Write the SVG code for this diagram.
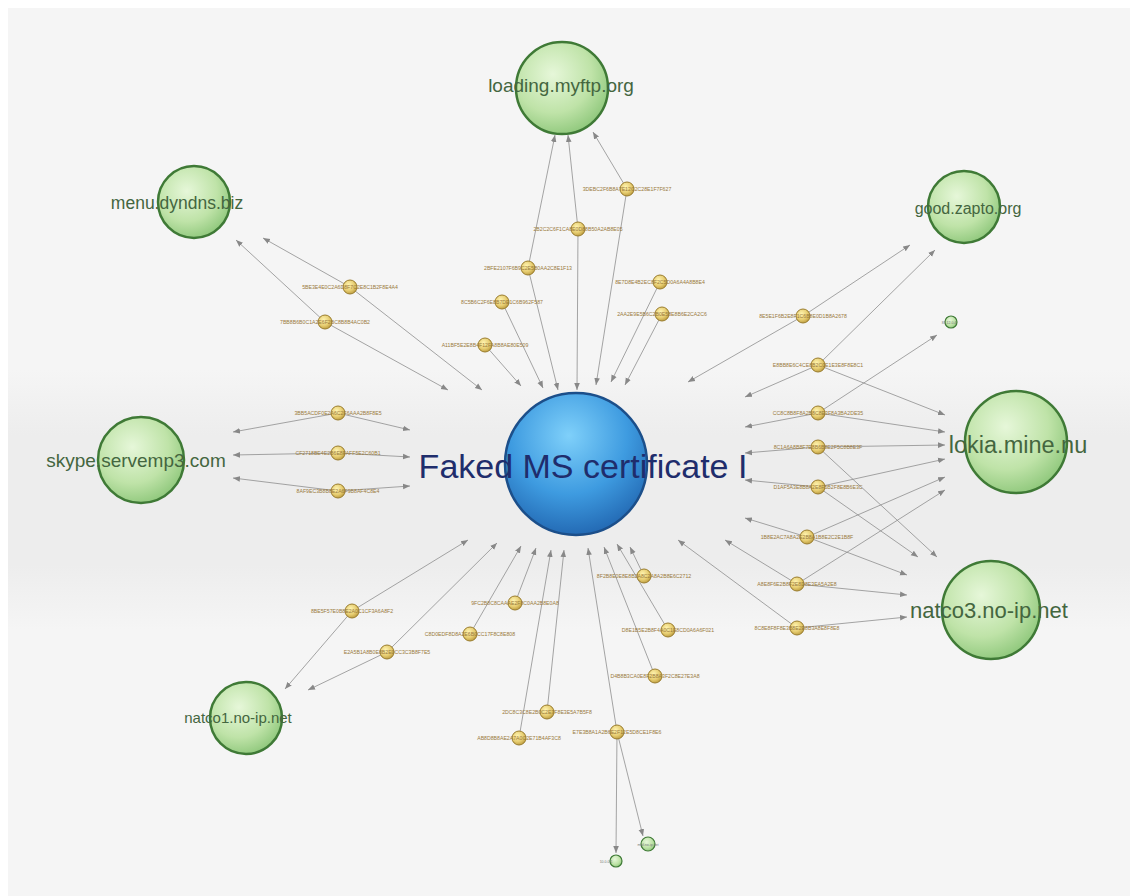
<svg xmlns="http://www.w3.org/2000/svg" width="1130" height="896" viewBox="0 0 1130 896">
<defs>
<radialGradient id="gG" cx="0.4" cy="0.35" r="0.7">
<stop offset="0" stop-color="#e6f7d9"/><stop offset="0.6" stop-color="#bfe3a8"/><stop offset="1" stop-color="#8cc679"/>
</radialGradient>
<radialGradient id="gB" cx="0.45" cy="0.3" r="0.75">
<stop offset="0" stop-color="#7fd0fa"/><stop offset="0.55" stop-color="#3e9be0"/><stop offset="1" stop-color="#1f62ad"/>
</radialGradient>
<radialGradient id="gY" cx="0.4" cy="0.35" r="0.7">
<stop offset="0" stop-color="#fff4b0"/><stop offset="0.6" stop-color="#e6cc70"/><stop offset="1" stop-color="#b8973a"/>
</radialGradient>
<linearGradient id="band" x1="0" y1="0" x2="0" y2="1">
<stop offset="0" stop-color="#ebebeb" stop-opacity="0"/><stop offset="0.25" stop-color="#ebebeb" stop-opacity="0.8"/><stop offset="0.75" stop-color="#ebebeb" stop-opacity="0.8"/><stop offset="1" stop-color="#ebebeb" stop-opacity="0"/>
</linearGradient>
<marker id="arr" viewBox="0 0 10 10" refX="10" refY="5" markerWidth="7" markerHeight="7" orient="auto" markerUnits="userSpaceOnUse">
<path d="M0,1 L10,5 L0,9 z" fill="#888"/>
</marker>
</defs>
<style>
.e{stroke:#8e8e8e;stroke-width:0.8;fill:none;marker-end:url(#arr)}
.dn{fill:url(#gG);stroke:#3f7a36;stroke-width:2.5}
.sn{fill:url(#gG);stroke:#3f7a36;stroke-width:1.2}
.hn{fill:url(#gY);stroke:#9a7d2e;stroke-width:1}
.hl{font-family:"Liberation Sans",Arial,sans-serif;font-size:5.2px;fill:#9a7a3c;text-anchor:middle}
.dl{font-family:"Liberation Sans",Arial,sans-serif;fill:#44663f;text-anchor:middle}
.sl{font-family:"Liberation Sans",Arial,sans-serif;font-size:3.5px;fill:#777;text-anchor:middle}
</style>
<rect x="0" y="0" width="1130" height="896" fill="#ffffff"/>
<rect x="8" y="8" width="1122" height="888" fill="#f5f5f5"/>
<rect x="8" y="370" width="1122" height="260" fill="url(#band)"/>

<g id="connectors">
<line class="e" x1="627" y1="189" x2="593" y2="132"/>
<line class="e" x1="627" y1="189" x2="596" y2="385"/>
<line class="e" x1="578" y1="229" x2="568" y2="135"/>
<line class="e" x1="578" y1="229" x2="577" y2="390"/>
<line class="e" x1="528" y1="268" x2="555" y2="135"/>
<line class="e" x1="528" y1="268" x2="558" y2="390"/>
<line class="e" x1="502" y1="302" x2="543" y2="388"/>
<line class="e" x1="485" y1="345" x2="521" y2="386"/>
<line class="e" x1="660" y1="282" x2="611" y2="382"/>
<line class="e" x1="662" y1="314" x2="625" y2="385"/>
<line class="e" x1="350" y1="287" x2="263" y2="238"/>
<line class="e" x1="350" y1="287" x2="482" y2="390"/>
<line class="e" x1="325" y1="322" x2="236" y2="240"/>
<line class="e" x1="325" y1="322" x2="448" y2="390"/>
<line class="e" x1="338" y1="413" x2="233" y2="432"/>
<line class="e" x1="338" y1="413" x2="410" y2="430"/>
<line class="e" x1="338" y1="453" x2="233" y2="455"/>
<line class="e" x1="338" y1="453" x2="410" y2="457"/>
<line class="e" x1="338" y1="491" x2="233" y2="478"/>
<line class="e" x1="338" y1="491" x2="410" y2="486"/>
<line class="e" x1="352" y1="611" x2="285" y2="689"/>
<line class="e" x1="352" y1="611" x2="468" y2="540"/>
<line class="e" x1="387" y1="652" x2="308" y2="690"/>
<line class="e" x1="387" y1="652" x2="497" y2="543"/>
<line class="e" x1="470" y1="634" x2="521" y2="546"/>
<line class="e" x1="515" y1="603" x2="536" y2="548"/>
<line class="e" x1="519" y1="738" x2="551" y2="550"/>
<line class="e" x1="547" y1="712" x2="564" y2="550"/>
<line class="e" x1="617" y1="732" x2="588" y2="548"/>
<line class="e" x1="617" y1="732" x2="616" y2="853"/>
<line class="e" x1="617" y1="732" x2="643" y2="836"/>
<line class="e" x1="655" y1="676" x2="604" y2="547"/>
<line class="e" x1="668" y1="630" x2="617" y2="544"/>
<line class="e" x1="644" y1="576" x2="630" y2="547"/>
<line class="e" x1="803" y1="316" x2="910" y2="245"/>
<line class="e" x1="803" y1="316" x2="688" y2="382"/>
<line class="e" x1="818" y1="365" x2="935" y2="250"/>
<line class="e" x1="818" y1="365" x2="745" y2="397"/>
<line class="e" x1="818" y1="365" x2="945" y2="415"/>
<line class="e" x1="818" y1="413" x2="937" y2="335"/>
<line class="e" x1="818" y1="413" x2="745" y2="427"/>
<line class="e" x1="818" y1="413" x2="945" y2="432"/>
<line class="e" x1="818" y1="447" x2="945" y2="445"/>
<line class="e" x1="818" y1="447" x2="745" y2="453"/>
<line class="e" x1="818" y1="447" x2="937" y2="557"/>
<line class="e" x1="818" y1="487" x2="745" y2="480"/>
<line class="e" x1="818" y1="487" x2="945" y2="459"/>
<line class="e" x1="818" y1="487" x2="918" y2="557"/>
<line class="e" x1="807" y1="537" x2="745" y2="518"/>
<line class="e" x1="807" y1="537" x2="945" y2="477"/>
<line class="e" x1="807" y1="537" x2="907" y2="575"/>
<line class="e" x1="797" y1="584" x2="945" y2="490"/>
<line class="e" x1="797" y1="584" x2="725" y2="540"/>
<line class="e" x1="797" y1="584" x2="907" y2="595"/>
<line class="e" x1="797" y1="628" x2="678" y2="540"/>
<line class="e" x1="797" y1="628" x2="907" y2="617"/>
</g>

<g id="center">
<circle cx="576" cy="464" r="71" fill="url(#gB)" stroke="#1c4f8a" stroke-width="2.5"/>
<text x="583" y="478" font-family="Liberation Sans,Arial,sans-serif" font-size="34" fill="#1f2d6c" text-anchor="middle">Faked MS certificate I</text>
</g>

<g id="loading">
<circle class="dn" cx="562" cy="88" r="46"/>
<text class="dl" x="561" y="92" font-size="19">loading.myftp.org</text>
</g>
<g id="menu">
<circle class="dn" cx="194" cy="202" r="36"/>
<text class="dl" x="177" y="209" font-size="17.5">menu.dyndns.biz</text>
</g>
<g id="good">
<circle class="dn" cx="964" cy="207" r="36"/>
<text class="dl" x="968" y="214" font-size="16">good.zapto.org</text>
</g>
<g id="skype">
<circle class="dn" cx="141" cy="460" r="43"/>
<text class="dl" x="136" y="467" font-size="19">skype.servemp3.com</text>
</g>
<g id="lokia">
<circle class="dn" cx="1016" cy="442" r="51"/>
<text class="dl" x="1018" y="453" font-size="23.5" fill="#2f5529">lokia.mine.nu</text>
</g>
<g id="natco3">
<circle class="dn" cx="991" cy="610" r="49"/>
<text class="dl" x="989" y="618" font-size="22" fill="#2f5529">natco3.no-ip.net</text>
</g>
<g id="natco1">
<circle class="dn" cx="246" cy="718" r="36"/>
<text class="dl" x="238" y="723" font-size="15">natco1.no-ip.net</text>
</g>

<g id="small1"><circle class="sn" cx="951" cy="322" r="6"/><text class="sl" x="949" y="323.5">81.12.0.4</text></g>
<g id="small2"><circle class="sn" cx="648" cy="844" r="7"/><text class="sl" x="648" y="845.5">mail.no-ip.net</text></g>
<g id="small3"><circle class="sn" cx="616" cy="861" r="6"/><text class="sl" x="606" y="862.5">10.0.0.1</text></g>

<g id="h1"><circle class="hn" cx="627" cy="189" r="7"/><text class="hl" x="627" y="191">3DEBC2F6B8A7E12C2C28E1F7F627</text></g>
<g id="h2"><circle class="hn" cx="578" cy="229" r="7"/><text class="hl" x="578" y="231">2B2C2C6F1CA8E0D88B50A2AB8E05</text></g>
<g id="h3"><circle class="hn" cx="528" cy="268" r="7"/><text class="hl" x="528" y="270">2BFE2107F6B9C2E5B0AA2C8E1F13</text></g>
<g id="h4"><circle class="hn" cx="502" cy="302" r="7"/><text class="hl" x="502" y="304">8C5B6C2F6E8B7DE1C6B962F587</text></g>
<g id="h5"><circle class="hn" cx="485" cy="345" r="7"/><text class="hl" x="485" y="347">A11BF5E2E8B4F12FA8B8AE80E509</text></g>
<g id="h6"><circle class="hn" cx="660" cy="282" r="7"/><text class="hl" x="660" y="284">8E7D8E4B2EC8F2C5D0A6A4A8B8E4</text></g>
<g id="h7"><circle class="hn" cx="662" cy="314" r="7"/><text class="hl" x="662" y="316">2AA2E9E5B6C2B0E58E8B6E2CA2C6</text></g>
<g id="h8"><circle class="hn" cx="350" cy="287" r="7"/><text class="hl" x="350" y="289">5BE3E4E0C2A6D8F7C2E8C1B2F8E4A4</text></g>
<g id="h9"><circle class="hn" cx="325" cy="322" r="7"/><text class="hl" x="325" y="324">7BB8B6B0C1A2E6F2BC8B8B4AC0B2</text></g>
<g id="h10"><circle class="hn" cx="338" cy="413" r="7"/><text class="hl" x="338" y="415">3BB5ACDF0E2A6C2F6AAA2B8F8E5</text></g>
<g id="h11"><circle class="hn" cx="338" cy="453" r="7"/><text class="hl" x="338" y="455">CF2718BE4E2B6E8FAFF5E2C60B1</text></g>
<g id="h12"><circle class="hn" cx="338" cy="491" r="7"/><text class="hl" x="338" y="493">8AF9EC3B8B8E2A6F9B8AF4C8E4</text></g>
<g id="h13"><circle class="hn" cx="352" cy="611" r="7"/><text class="hl" x="352" y="613">8BE5F57E0B8E2A0C1CF3A6A8F2</text></g>
<g id="h14"><circle class="hn" cx="387" cy="652" r="7"/><text class="hl" x="387" y="654">E2A5B1A8B0E8B2E0CC3C3B8F7E5</text></g>
<g id="h15"><circle class="hn" cx="515" cy="603" r="7"/><text class="hl" x="515" y="605">9FC2B8C8CAAAE2F8C0AA2B8E0A8</text></g>
<g id="h16"><circle class="hn" cx="470" cy="634" r="7"/><text class="hl" x="470" y="636">C8D0EDF8D8A2E6B0CC17F8C8E808</text></g>
<g id="h17"><circle class="hn" cx="547" cy="712" r="7"/><text class="hl" x="547" y="714">2DC8C3C8E2B0C2E7F8E3E5A7B5F8</text></g>
<g id="h18"><circle class="hn" cx="519" cy="738" r="7"/><text class="hl" x="519" y="740">AB8D8B8AE2A7A0C2E71B4AF3C8</text></g>
<g id="h19"><circle class="hn" cx="617" cy="732" r="7"/><text class="hl" x="617" y="734">E7E3B8A1A2B6E2F12E5D8CE1F8E6</text></g>
<g id="h20"><circle class="hn" cx="644" cy="576" r="7"/><text class="hl" x="644" y="578">8F2B8E0E8E8B2A8C2A8A2B8E6C2712</text></g>
<g id="h21"><circle class="hn" cx="668" cy="630" r="7"/><text class="hl" x="668" y="632">D8E1B5E2B8F4A0C1E8CD0A6A6F021</text></g>
<g id="h22"><circle class="hn" cx="655" cy="676" r="7"/><text class="hl" x="655" y="678">D4B8B3CA0E8F2B8A3F2C8E27E3A8</text></g>
<g id="h23"><circle class="hn" cx="803" cy="316" r="7"/><text class="hl" x="803" y="318">8E5E1F6B2E8F1C6B8E0D1B8A2678</text></g>
<g id="h24"><circle class="hn" cx="818" cy="365" r="7"/><text class="hl" x="818" y="367">E8BB8E6C4CE8B2C0E1E3E8F8E8C1</text></g>
<g id="h25"><circle class="hn" cx="818" cy="413" r="7"/><text class="hl" x="818" y="415">CC8C8B8F8A2B8C8E3F8A3BA2DE35</text></g>
<g id="h26"><circle class="hn" cx="818" cy="447" r="7"/><text class="hl" x="818" y="449">8C1A6A8B8F7E8B6B8E2F5C8B8E3F</text></g>
<g id="h27"><circle class="hn" cx="818" cy="487" r="7"/><text class="hl" x="818" y="489">D1AF5A3E8B8A2E8F5B2F8E8B6E3C</text></g>
<g id="h28"><circle class="hn" cx="807" cy="537" r="7"/><text class="hl" x="807" y="539">1B8E2AC7A8A2E2B8A1B8E2C2E1B8F</text></g>
<g id="h29"><circle class="hn" cx="797" cy="584" r="7"/><text class="hl" x="797" y="586">A8E8F6E2B8F2E8D8E3EA5A2E8</text></g>
<g id="h30"><circle class="hn" cx="797" cy="628" r="7"/><text class="hl" x="797" y="630">8C8E8F8F8E3B8E2E8B3A8E8F8E8</text></g>
</svg>
